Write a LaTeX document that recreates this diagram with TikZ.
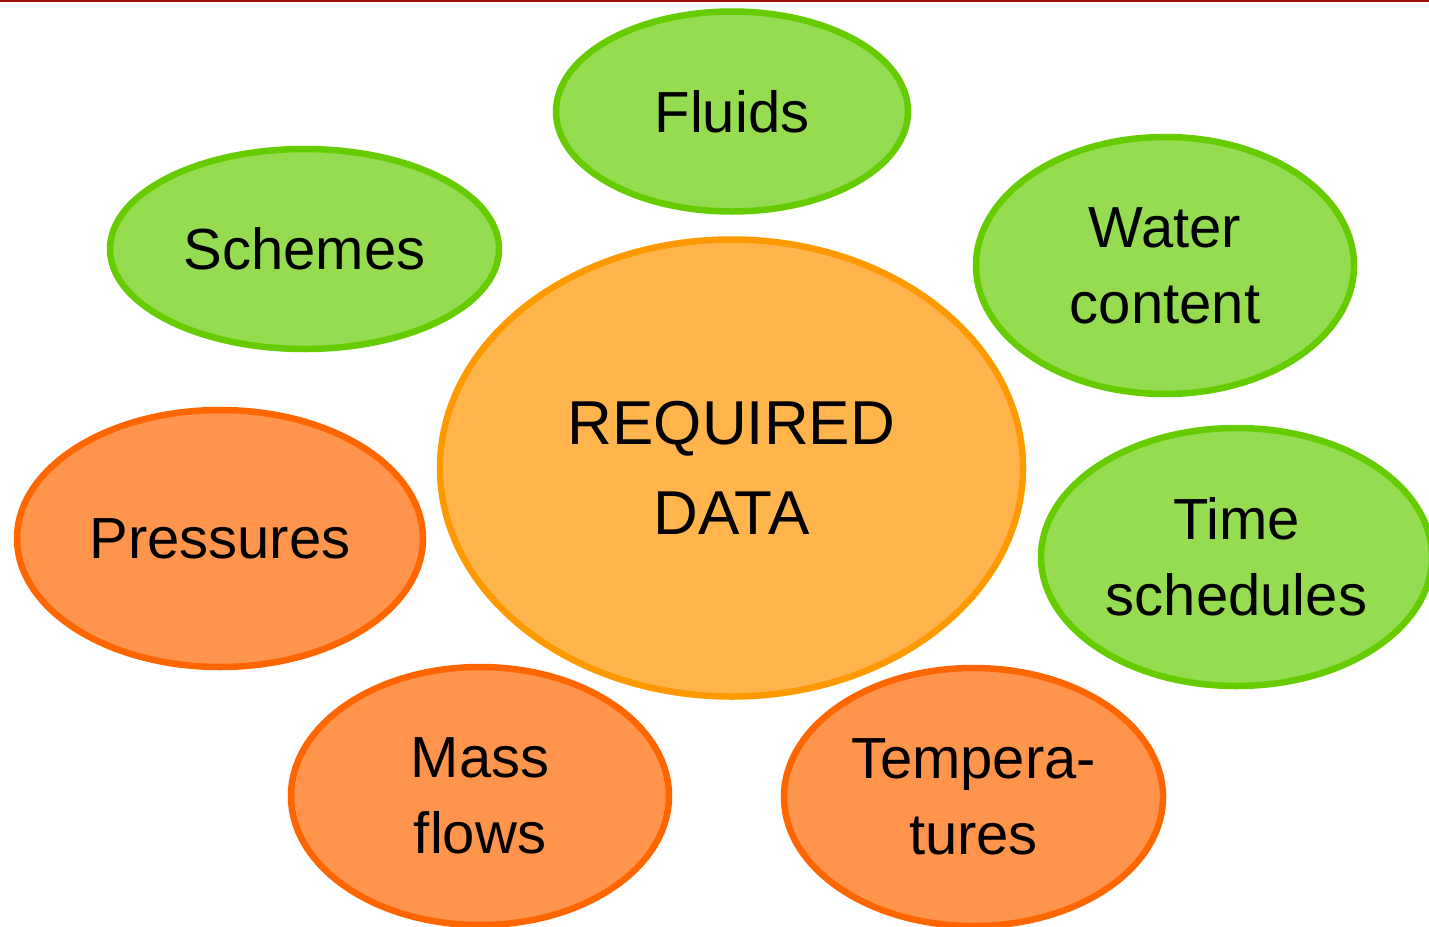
\documentclass[tikz,border=0pt]{standalone}
\usepackage{fontspec}
\setmainfont{Liberation Sans}
\usetikzlibrary{shapes.geometric}
\definecolor{leaf}{HTML}{95DC50}
\definecolor{leafline}{HTML}{66CC00}
\definecolor{amber}{HTML}{FFB44C}
\definecolor{amberline}{HTML}{FF9900}
\definecolor{rust}{HTML}{FF944D}
\definecolor{rustline}{HTML}{FF6600}
\definecolor{barred}{HTML}{9E0B0B}
\begin{document}
\begin{tikzpicture}[x=1pt,y=-1pt,
  blob/.style={ellipse,line width=6.5pt,inner sep=0pt,align=center,
    font=\fontsize{58}{76}\selectfont},
  greenblob/.style={blob,fill=leaf,draw=leafline},
  redblob/.style={blob,fill=rust,draw=rustline}]

\useasboundingbox (0,0) rectangle (1429,926);
\draw[barred,line width=2.5pt] (0,1) -- (1429,1);

\node[blob,fill=amber,draw=amberline,minimum width=583,minimum height=457,
  font=\fontsize{62}{90}\selectfont] (Rd) at (731.5,468) {REQUIRED\\DATA};

\node[greenblob,minimum width=352,minimum height=200] (Fl) at (732,111.5) {Fluids};
\node[greenblob,minimum width=389,minimum height=200] (Sc) at (304.5,249) {Schemes};
\node[greenblob,minimum width=378,minimum height=257] (Wc) at (1165,265.5) {Water\\content};
\node[greenblob,minimum width=391,minimum height=258] (Ts) at (1236.5,557) {Time\\schedules};

\node[redblob,minimum width=406,minimum height=257] (Pr) at (220,538.5) {Pressures};
\node[redblob,minimum width=378,minimum height=258] (Mf) at (480,796) {Mass\\flows};
\node[redblob,minimum width=379,minimum height=258] (Te) at (973.5,797) {Tempera-\\tures};

\end{tikzpicture}
\end{document}
